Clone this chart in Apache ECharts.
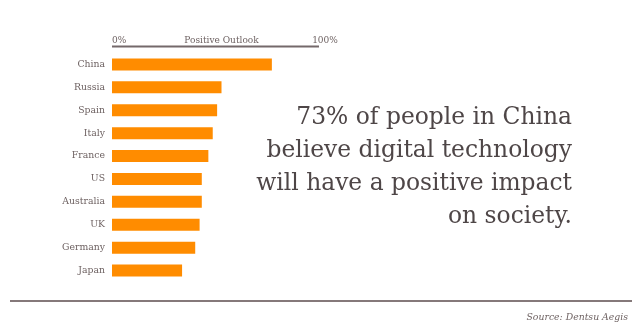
<!DOCTYPE html>
<html>
<head>
<meta charset="utf-8">
<script src="https://cdn.jsdelivr.net/npm/echarts@6/dist/echarts.min.js"></script>
<style>
  html, body { margin: 0; padding: 0; background: #ffffff; }
  #chart { width: 640px; height: 334px; }
</style>
</head>
<body>
<div id="chart"></div>
<script>
// Share of people with a positive outlook on digital technology, by country
const countries = ['China', 'Russia', 'Spain', 'Italy', 'France', 'US', 'Australia', 'UK', 'Germany', 'Japan'];
const positiveOutlook = [73, 50, 48, 46, 44, 41, 41, 40, 38, 32];
const tickLabels = ['0%', '100%'];
const axisTitle = 'Positive Outlook';
const headline = '73% of people in China\nbelieve digital technology\nwill have a positive impact\non society.';
const sourceNote = 'Source: Dentsu Aegis';

const serif = '"DejaVu Serif", "Liberation Serif", serif';
const labelColor = '#6e6262';
const orange = '#ff8c00';

const chart = echarts.init(document.getElementById('chart'), null, { renderer: 'canvas' });

chart.setOption({
  backgroundColor: '#ffffff',
  animation: false,
  grid: { left: 112, width: 219, top: 53, height: 229, containLabel: false },
  xAxis: {
    type: 'value',
    position: 'top',
    min: 0,
    max: 100,
    interval: 100,
    name: axisTitle,
    nameLocation: 'middle',
    nameGap: 12,
    nameMoveOverlap: false,
    nameTextStyle: { fontFamily: serif, fontSize: 9, color: labelColor, verticalAlign: 'middle' },
    axisLine: { show: false },
    axisTick: { show: false },
    splitLine: { show: false },
    axisLabel: {
      fontFamily: serif, fontSize: 9, color: labelColor, margin: 8,
      alignMinLabel: 'left',
      formatter: v => v === 0 ? tickLabels[0] : '{m|' + tickLabels[1] + '}',
      rich: { m: { fontFamily: serif, fontSize: 9, color: labelColor, padding: [0, 12, 0, 0] } }
    }
  },
  yAxis: {
    type: 'category',
    data: countries,
    inverse: true,
    axisLine: { show: false },
    axisTick: { show: false },
    axisLabel: { fontFamily: serif, fontSize: 9.3, color: labelColor, margin: 7 }
  },
  series: [{
    type: 'bar',
    data: positiveOutlook,
    barWidth: 12,
    itemStyle: { color: orange },
    silent: true
  }],
  graphic: [
    // rule under the header labels
    { type: 'line', shape: { x1: 112, y1: 46.5, x2: 319, y2: 46.5 }, style: { stroke: '#74696a', lineWidth: 2 } },
    // headline, right-aligned block
    { type: 'text', x: 572, y: 101,
      style: { text: headline, fontFamily: serif, fontSize: 23.4, lineHeight: 33, fill: '#4e4647', align: 'right', verticalAlign: 'top' } },
    // footer rule
    { type: 'line', shape: { x1: 10, y1: 301, x2: 632, y2: 301 }, style: { stroke: '#85797a', lineWidth: 2 } },
    // source
    { type: 'text', x: 628, y: 318,
      style: { text: sourceNote, fontFamily: serif, fontSize: 9.3, fontStyle: 'italic', fill: '#6e6262', align: 'right', verticalAlign: 'middle' } }
  ]
});
</script>
</body>
</html>
